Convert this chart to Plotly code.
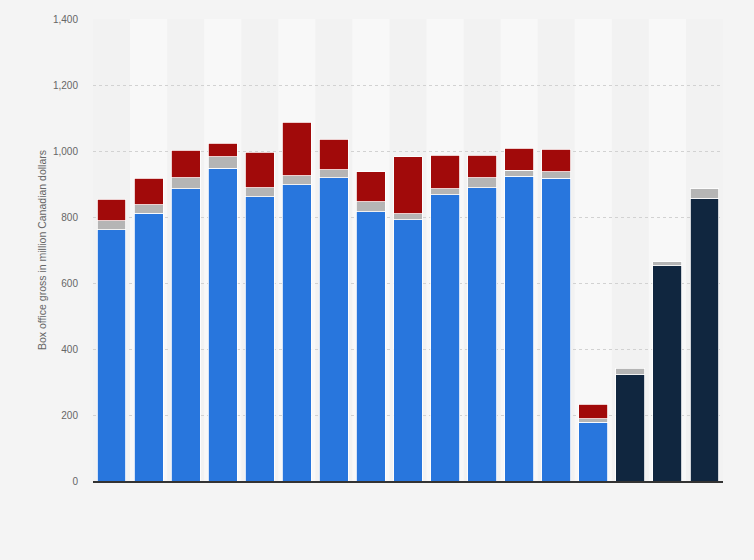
import plotly.graph_objects as go

years = [str(y) for y in range(2007, 2024)]

# segment sizes in million CAD
blue_vals = [761, 811, 885, 948, 861, 897, 919, 816, 791, 867, 889, 924, 918, 178, None, None, None]
navy_vals = [None] * 14 + [322, 652, 857]
grey_vals = [28, 26, 34, 35, 28, 28, 24, 30, 19, 18, 30, 18, 19, 10, 19, 13, 28]
red_vals = [65, 80, 83, 40, 107, 162, 92, 91, 172, 102, 68, 67, 68, 44, None, None, None]

font_family = "Liberation Sans, Arial, sans-serif"

fig = go.Figure()
for name, vals, color in [("Segment A", blue_vals, "#2876dd"),
                          ("Segment A (recent)", navy_vals, "#10263f"),
                          ("Segment B", grey_vals, "#b5b5b5"),
                          ("Segment C", red_vals, "#a10a0a")]:
    fig.add_trace(go.Bar(x=years, y=vals, name=name,
                         marker=dict(color=color, line=dict(color="#ffffff", width=0.8))))

# alternating column bands
for i, yr in enumerate(years):
    if i % 2 == 1:
        fig.add_shape(type="rect", xref="x", yref="paper", x0=i - 0.5, x1=i + 0.5,
                      y0=0, y1=1, fillcolor="#f8f8f8", line_width=0, layer="below")

fig.update_layout(
    width=754, height=560,
    barmode="stack", bargap=0.22,
    showlegend=False,
    paper_bgcolor="#f4f4f4", plot_bgcolor="#f2f2f2",
    margin=dict(l=93, r=31, t=19, b=79),
    font=dict(family=font_family, size=10, color="#666666"),
)
fig.update_xaxes(showticklabels=False, showgrid=False, ticks="", automargin=False,
                 showline=True, linecolor="#333333", linewidth=2,
                 range=[-0.5, len(years) - 0.5])
fig.update_yaxes(range=[0, 1400], dtick=200, tickformat=",d", automargin=False,
                 showgrid=True, gridcolor="#d2d2d2", griddash="dot", gridwidth=1,
                 zeroline=False, ticks="", ticklabelstandoff=14,
                 title=dict(text="Box office gross in million Canadian dollars",
                            font=dict(size=10.5, color="#666666"), standoff=4))

fig.write_html("out.html", config={"displayModeBar": False},
               post_script="document.body.style.margin='0';")
